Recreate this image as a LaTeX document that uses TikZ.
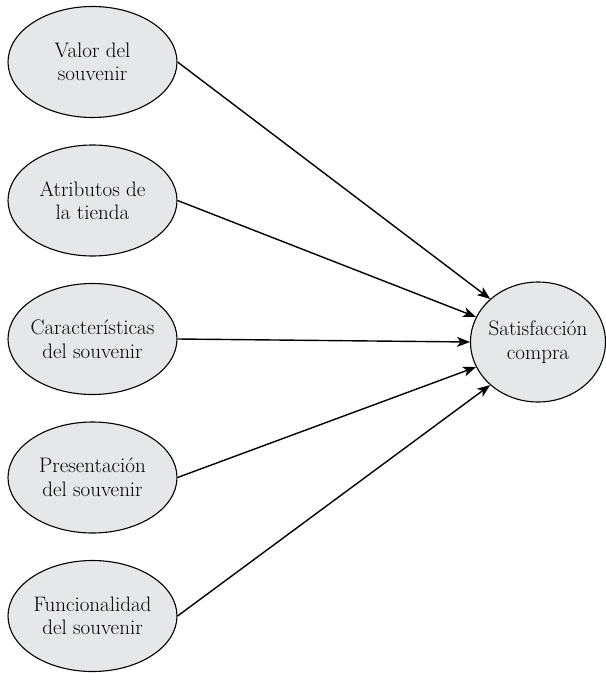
\documentclass[tikz,border=0pt]{standalone}
\usepackage{tikz}
\usetikzlibrary{arrows.meta}
\usetikzlibrary{positioning}
\usetikzlibrary{shapes.geometric}
\definecolor{ovalgray}{RGB}{230,231,233}

\begin{document}
\begin{tikzpicture}[->,>={Stealth[length=13pt,width=10pt,inset=3.5pt]},node distance=138.5pt,
                    line width=1.4pt,
                    factor node/.style={ellipse,draw,line width=1.1pt,fill=ovalgray,
                      minimum width=169pt,minimum height=111pt,inner xsep=-12pt,inner ysep=-4pt,
                      align=center,font=\fontsize{21}{23.5}\selectfont},
                    result node/.style={factor node,minimum width=135pt,minimum height=120pt}]

  \useasboundingbox (0pt,0pt) rectangle (605pt,-674pt);

  \node[factor node] (valor) at (92.5pt,-62pt) {Valor del\\souvenir};
  \node[factor node] (atributos) [below of=valor] {Atributos de\\la tienda};
  \node[factor node] (caracteristicas) [below of=atributos] {Características\\del souvenir};
  \node[factor node] (presentacion) [below of=caracteristicas] {Presentación\\del souvenir};
  \node[factor node] (funcionalidad) [below of=presentacion] {Funcionalidad\\del souvenir};

  \node[result node] (satisfaccion) at (538pt,-342pt) {Satisfacción\\compra};

  \path
    (valor.east) edge (satisfaccion.138)
    (atributos.east) edge (satisfaccion.158)
    (caracteristicas.east) edge (satisfaccion.180)
    (presentacion.east) edge (satisfaccion.202)
    (funcionalidad.east) edge (satisfaccion.222)
  ;
\end{tikzpicture}
\end{document}
